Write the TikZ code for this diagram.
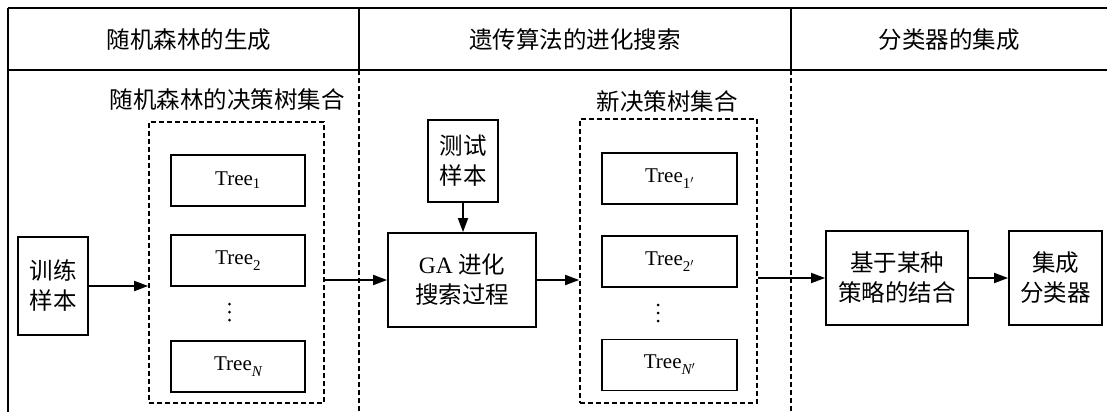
\documentclass[tikz,border=0pt]{standalone}
\usepackage{fontspec}
\setmainfont{Liberation Serif}
\newfontfamily\cjk{Noto Sans CJK SC}
\usetikzlibrary{arrows.meta}
\newcommand\tsb[1]{\raisebox{-6pt}{\fontsize{15}{15}\selectfont #1}}
\begin{document}
\begin{tikzpicture}[x=1pt,y=-1pt,
  frame/.style={line width=2pt},
  divdash/.style={line width=1.7pt,dash pattern=on 5pt off 3pt},
  box/.style={draw,line width=1.8pt,inner sep=0pt,align=center,font=\cjk\fontsize{23.5}{30}\selectfont},
  treebox/.style={draw,line width=1.8pt,inner sep=0pt,minimum width=134pt,minimum height=51pt,font=\fontsize{21}{24}\selectfont},
  setbox/.style={draw,line width=1.7pt,dash pattern=on 5pt off 3pt,inner sep=0pt},
  htext/.style={font=\cjk\fontsize{23.5}{28}\selectfont},
  dotc/.style={fill=black},
  arr/.style={line width=1.8pt,-{Triangle[length=14pt,width=10pt]}}
]
\useasboundingbox (0,0) rectangle (1107,412);
% frame
\coordinate (tl) at (8,8);
\coordinate (tr) at (1107,8);
\coordinate (hl) at (8,70);
\coordinate (hr) at (1107,70);
\coordinate (bl) at (8,412);
\draw[frame] (tl) -- (tr);
\draw[frame] (hl) -- (hr);
\draw[frame] (tl) -- (bl);
\coordinate (d1t) at (359,8);
\coordinate (d1m) at (359,70);
\coordinate (d1b) at (359,412);
\coordinate (d2t) at (791,8);
\coordinate (d2m) at (791,70);
\coordinate (d2b) at (791,412);
\draw[frame] (d1t) -- (d1m);
\draw[frame] (d2t) -- (d2m);
\draw[divdash] (d1m) -- (d1b);
\draw[divdash] (d2m) -- (d2b);
% headers
\node[htext] (h1) at (189,40) {随机森林的生成};
\node[htext] (h2) at (575,40) {遗传算法的进化搜索};
\node[htext] (h3) at (949,40) {分类器的集成};
% set 1
\node[htext] (l1) at (227,100) {随机森林的决策树集合};
\node[setbox,minimum width=175pt,minimum height=281pt] (set1) at (236.5,262.5) {};
\node[treebox] (t1) at (238,180.5) {Tree\textsubscript{1}};
\node[treebox] (t2) at (238,260.5) {Tree\tsb{2}};
\foreach \yy in {304,312,320} \fill[dotc] (229.5,\yy) circle (1.5pt);
\node[treebox] (tn) at (238,366.5) {Tree\tsb{\itshape N}};
% train
\node[box,minimum width=70pt,minimum height=98pt] (train) at (53,286) {训练\\样本};
% test + GA
\node[box,minimum width=70pt,minimum height=82pt] (test) at (463,161) {测试\\样本};
\node[box,minimum width=148pt,minimum height=94pt] (ga) at (462,280) {{\rmfamily GA} 进化\\搜索过程};
% set 2
\node[htext] (l2) at (667,102) {新决策树集合};
\node[setbox,minimum width=177pt,minimum height=284pt] (set2) at (668.5,261) {};
\node[treebox,minimum width=135pt] (u1) at (669.5,178.5) {Tree\tsb{1$'$}};
\node[treebox,minimum width=135pt] (u2) at (669.5,261.5) {Tree\tsb{2$'$}};
\foreach \yy in {305,313,321} \fill[dotc] (658,\yy) circle (1.5pt);
\node[treebox,minimum width=135pt] (un) at (669.5,365) {Tree\tsb{\itshape N$'$}};
% combination
\node[box,minimum width=142pt,minimum height=94pt] (comb) at (897,278) {基于某种\\策略的结合};
\node[box,minimum width=93pt,minimum height=94pt] (ens) at (1055.5,278) {集成\\分类器};
% arrows
\draw[arr] (train.east) -- (train.east -| set1.west);
\draw[arr] (set1.east |- ga.west) -- (ga.west);
\draw[arr] (test.south) -- (test.south |- ga.north);
\draw[arr] (ga.east) -- (ga.east -| set2.west);
\draw[arr] (set2.east |- comb.west) -- (comb.west);
\draw[arr] (comb.east) -- (ens.west);
\end{tikzpicture}
\end{document}
